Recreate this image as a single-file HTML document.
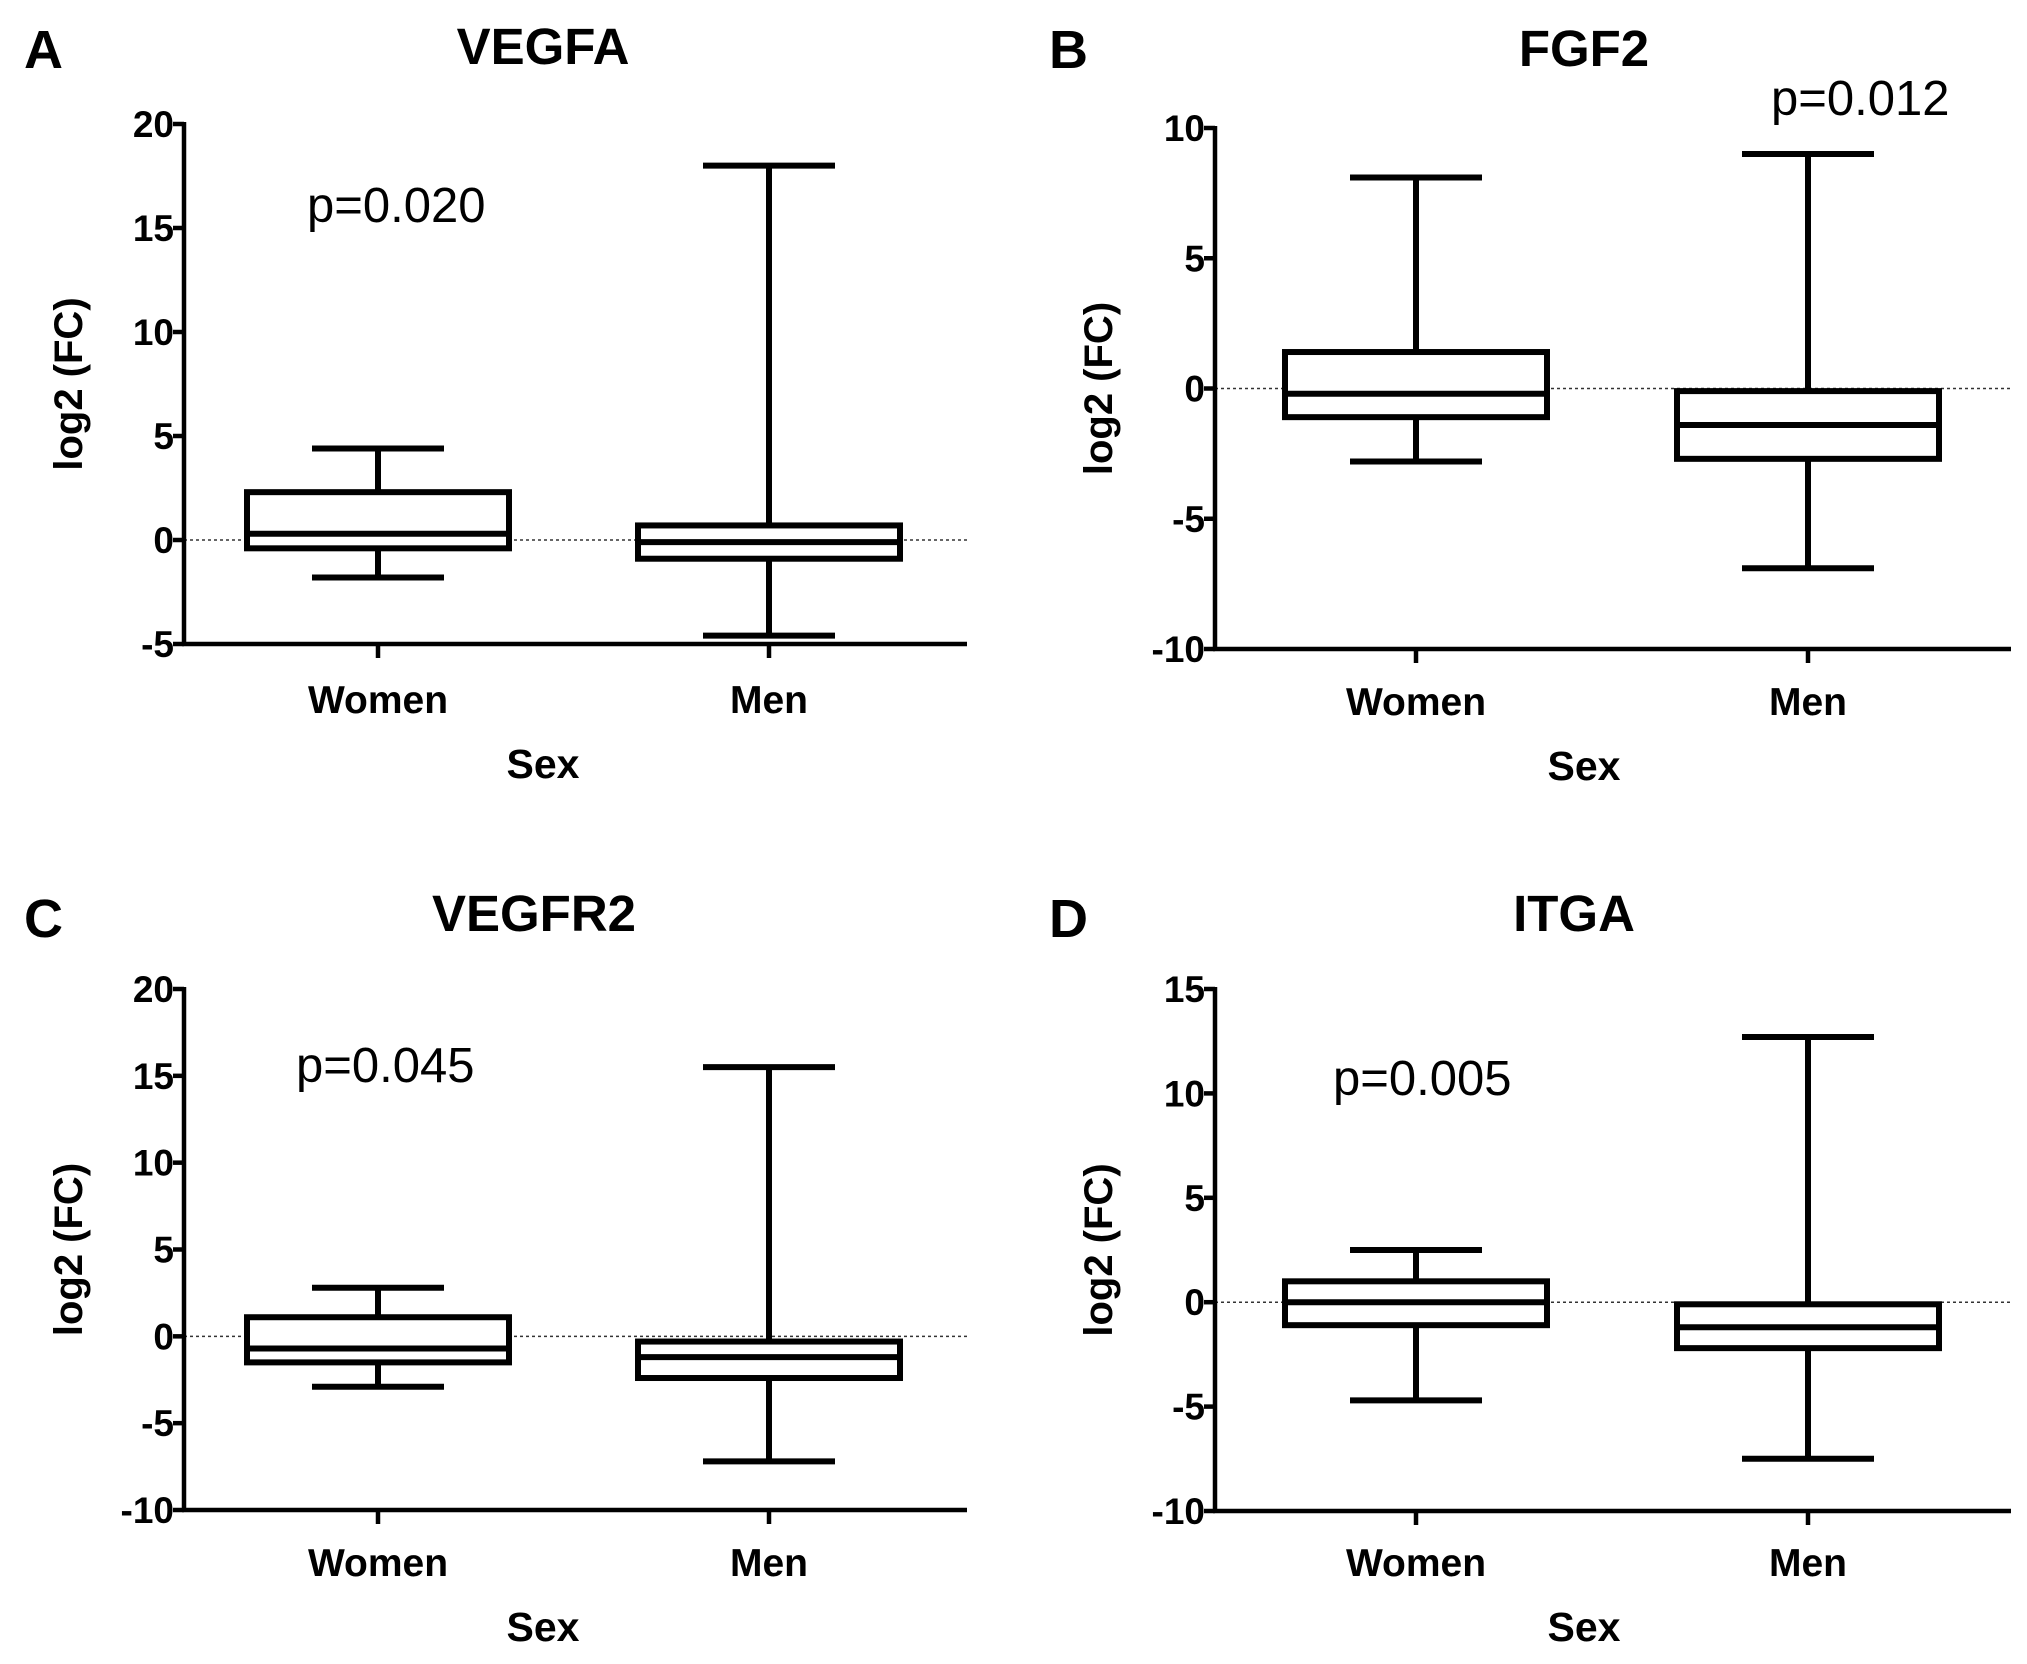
<!DOCTYPE html>
<html><head><meta charset="utf-8">
<style>
html,body{margin:0;padding:0;background:#fff;}
svg{display:block;font-family:"Liberation Sans",Arial,sans-serif;}
</style></head>
<body>
<svg id="fig" width="2027" height="1664" viewBox="0 0 2027 1664" xmlns="http://www.w3.org/2000/svg"></svg>
<script>
const categories = ["Women","Men"];
const panelTitles = ["VEGFA","FGF2","VEGFR2","ITGA"];
const panelLetters = ["A","B","C","D"];
const pValues = ["p=0.020","p=0.012","p=0.045","p=0.005"];
const yTicksA = [-5,0,5,10,15,20];
const yTicksB = [-10,-5,0,5,10];
const yTicksC = [-10,-5,0,5,10,15,20];
const yTicksD = [-10,-5,0,5,10,15];
// [whiskerLow, q1, median, q3, whiskerHigh] per category
const vegfaWomen = [-1.8,-0.4,0.3,2.3,4.4];
const vegfaMen = [-4.6,-0.9,-0.1,0.7,18];
const fgf2Women = [-2.8,-1.1,-0.2,1.4,8.1];
const fgf2Men = [-6.9,-2.7,-1.4,-0.1,9.0];
const vegfr2Women = [-2.9,-1.5,-0.7,1.1,2.8];
const vegfr2Men = [-7.2,-2.4,-1.2,-0.3,15.5];
const itgaWomen = [-4.7,-1.1,0.0,1.0,2.5];
const itgaMen = [-7.5,-2.2,-1.2,-0.1,12.7];

const NS="http://www.w3.org/2000/svg";
const svg=document.getElementById('fig');
function mk(tag,attrs,parent,text){const e=document.createElementNS(NS,tag);for(const k in attrs)e.setAttribute(k,attrs[k]);if(text!==undefined)e.textContent=text;(parent||svg).appendChild(e);return e;}

const layouts=[
 {ax:184,top:124,bot:644,right:967,cx:[378,769],letterX:24,letterY:68,titleX:543,titleY:64,pX:307,pY:222,ylabX:78,xlabY:713,sexX:543,sexY:778,ticks:yTicksA,data:[vegfaWomen,vegfaMen]},
 {ax:1215,top:128,bot:649,right:2011,cx:[1416,1808],letterX:1049,letterY:68,titleX:1584,titleY:66,pX:1771,pY:115,ylabX:1108,xlabY:715,sexX:1584,sexY:780,ticks:yTicksB,data:[fgf2Women,fgf2Men]},
 {ax:184,top:989,bot:1510,right:967,cx:[378,769],letterX:24,letterY:937,titleX:534,titleY:931,pX:296,pY:1082,ylabX:78,xlabY:1576,sexX:543,sexY:1641,ticks:yTicksC,data:[vegfr2Women,vegfr2Men]},
 {ax:1215,top:989,bot:1511,right:2011,cx:[1416,1808],letterX:1049,letterY:937,titleX:1574,titleY:931,pX:1333,pY:1095,ylabX:1108,xlabY:1576,sexX:1584,sexY:1641,ticks:yTicksD,data:[itgaWomen,itgaMen]}
];
const panelNames=["vegfa","fgf2","vegfr2","itga"];

layouts.forEach((L,i)=>{
 const g=mk('g',{});
 
 
 const t=L.ticks, ymin=t[0], ymax=t[t.length-1];
 const y=v=>L.bot-(v-ymin)/(ymax-ymin)*(L.bot-L.top);
 let e;
 e=mk('text',{x:L.letterX,y:L.letterY,'font-size':54,'font-weight':'bold'},g,panelLetters[i]);
 
 e=mk('text',{x:L.titleX,y:L.titleY,'font-size':51,'font-weight':'bold','text-anchor':'middle'},g,panelTitles[i]);
 
 e=mk('line',{x1:L.ax,x2:L.right,y1:y(0),y2:y(0),stroke:'#333','stroke-width':1.5,'stroke-dasharray':'3,3'},g);
 
 e=mk('line',{x1:L.ax,x2:L.ax,y1:L.top-2,y2:L.bot+2,stroke:'#000','stroke-width':4.5},g);
 
 t.forEach(v=>{
  const tk=mk('line',{x1:L.ax-11,x2:L.ax,y1:y(v),y2:y(v),stroke:'#000','stroke-width':4.5},g);
  
  const tl=mk('text',{x:L.ax-10,y:y(v)+13,'font-size':37,'font-weight':'bold','text-anchor':'end'},g,String(v));
  
 });
 e=mk('text',{x:0,y:0,'font-size':40,'font-weight':'bold','text-anchor':'middle',transform:`translate(${L.ylabX+4},${(L.top+L.bot)/2}) rotate(-90)`},g,'log2 (FC)');
 
 e=mk('line',{x1:L.ax-2,x2:L.right,y1:L.bot,y2:L.bot,stroke:'#000','stroke-width':4.5},g);
 
 categories.forEach((c,j)=>{
  const cx=L.cx[j];
  const tk=mk('line',{x1:cx,x2:cx,y1:L.bot,y2:L.bot+14,stroke:'#000','stroke-width':4.5},g);
  
  const tl=mk('text',{x:cx,y:L.xlabY,'font-size':39,'font-weight':'bold','text-anchor':'middle'},g,c);
  
  const d=L.data[j];
  const bg=mk('g',{stroke:'#000','stroke-width':6,fill:'none'},g);
  
  
  mk('line',{x1:cx,x2:cx,y1:y(d[3]),y2:y(d[4])},bg);
  mk('line',{x1:cx,x2:cx,y1:y(d[0]),y2:y(d[1])},bg);
  mk('line',{x1:cx-66,x2:cx+66,y1:y(d[4]),y2:y(d[4])},bg);
  mk('line',{x1:cx-66,x2:cx+66,y1:y(d[0]),y2:y(d[0])},bg);
  mk('rect',{x:cx-131,y:y(d[3]),width:262,height:y(d[1])-y(d[3]),fill:'#fff'},bg);
  mk('line',{x1:cx-131,x2:cx+131,y1:y(d[2]),y2:y(d[2])},bg);
 });
 e=mk('text',{x:L.sexX,y:L.sexY,'font-size':41,'font-weight':'bold','text-anchor':'middle'},g,'Sex');
 
 e=mk('text',{x:L.pX,y:L.pY,'font-size':49},g,pValues[i]);
 
});
</script>
</body></html>
